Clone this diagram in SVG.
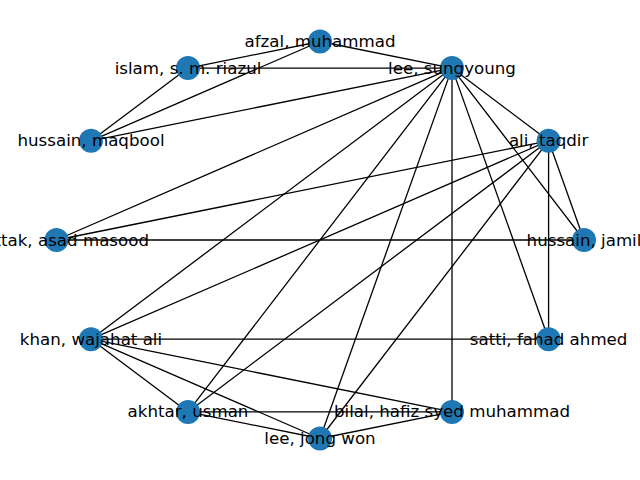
<svg xmlns="http://www.w3.org/2000/svg" width="640" height="480" viewBox="0 0 640 480">
<style>
.e{stroke:#000;stroke-width:1.3;fill:none}
.n circle{fill:#1f77b4}
.n text{font-family:"DejaVu Sans",sans-serif;font-size:16.67px;fill:#000;text-anchor:middle;dominant-baseline:central}
</style>
<rect width="640" height="480" fill="#fff"/>
<g id="edges" class="e">
<line x1="320" y1="41.5" x2="188" y2="68.1"/>
<line x1="320" y1="41.5" x2="91" y2="140.8"/>
<line x1="320" y1="41.5" x2="452" y2="68.1"/>
<line x1="188" y1="68.1" x2="452" y2="68.1"/>
<line x1="188" y1="68.1" x2="91" y2="140.8"/>
<line x1="91" y1="140.8" x2="452" y2="68.1"/>
<line x1="56.5" y1="240" x2="452" y2="68.1"/>
<line x1="56.5" y1="240" x2="548.6" y2="140.8"/>
<line x1="56.5" y1="240" x2="584" y2="240"/>
<line x1="452" y1="68.1" x2="548.6" y2="140.8"/>
<line x1="452" y1="68.1" x2="584" y2="240"/>
<line x1="452" y1="68.1" x2="548.6" y2="339.2"/>
<line x1="452" y1="68.1" x2="452" y2="411.9"/>
<line x1="452" y1="68.1" x2="320" y2="438.5"/>
<line x1="452" y1="68.1" x2="188" y2="411.9"/>
<line x1="452" y1="68.1" x2="91" y2="339.2"/>
<line x1="548.6" y1="140.8" x2="584" y2="240"/>
<line x1="548.6" y1="140.8" x2="548.6" y2="339.2"/>
<line x1="548.6" y1="140.8" x2="320" y2="438.5"/>
<line x1="548.6" y1="140.8" x2="188" y2="411.9"/>
<line x1="548.6" y1="140.8" x2="91" y2="339.2"/>
<line x1="91" y1="339.2" x2="548.6" y2="339.2"/>
<line x1="91" y1="339.2" x2="452" y2="411.9"/>
<line x1="91" y1="339.2" x2="320" y2="438.5"/>
<line x1="91" y1="339.2" x2="188" y2="411.9"/>
<line x1="188" y1="411.9" x2="452" y2="411.9"/>
<line x1="188" y1="411.9" x2="320" y2="438.5"/>
<line x1="320" y1="438.5" x2="452" y2="411.9"/>
</g>
<g id="afzal" class="n"><circle cx="320" cy="41.5" r="12"/><text x="320" y="41.5">afzal, muhammad</text></g>
<g id="lee_sungyoung" class="n"><circle cx="452" cy="68.1" r="12"/><text x="452" y="68.1">lee, sungyoung</text></g>
<g id="islam" class="n"><circle cx="188" cy="68.1" r="12"/><text x="188" y="68.1">islam, s. m. riazul</text></g>
<g id="hussain_maqbool" class="n"><circle cx="91" cy="140.8" r="12"/><text x="91" y="140.8">hussain, maqbool</text></g>
<g id="ali" class="n"><circle cx="548.6" cy="140.8" r="12"/><text x="548.6" y="140.8">ali, taqdir</text></g>
<g id="khattak" class="n"><circle cx="56.5" cy="240" r="12"/><text x="56.5" y="240">khattak, asad masood</text></g>
<g id="hussain_jamil" class="n"><circle cx="584" cy="240" r="12"/><text x="584" y="240">hussain, jamil</text></g>
<g id="khan" class="n"><circle cx="91" cy="339.2" r="12"/><text x="91" y="339.2">khan, wajahat ali</text></g>
<g id="satti" class="n"><circle cx="548.6" cy="339.2" r="12"/><text x="548.6" y="339.2">satti, fahad ahmed</text></g>
<g id="akhtar" class="n"><circle cx="188" cy="411.9" r="12"/><text x="188" y="411.9">akhtar, usman</text></g>
<g id="bilal" class="n"><circle cx="452" cy="411.9" r="12"/><text x="452" y="411.9">bilal, hafiz syed muhammad</text></g>
<g id="lee_jongwon" class="n"><circle cx="320" cy="438.5" r="12"/><text x="320" y="438.5">lee, jong won</text></g>
</svg>
